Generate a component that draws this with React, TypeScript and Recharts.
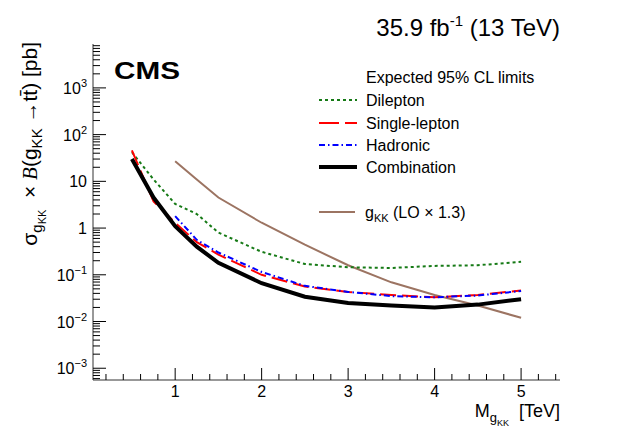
import React from 'react';
import { LineChart, Line, XAxis, YAxis } from 'recharts';

// mass points [TeV]
const masses = [0.5, 0.75, 1, 1.25, 1.5, 2, 2.5, 3, 3.5, 4, 4.5, 5];

// expected 95% CL limits [pb]
const dilepton = [42, 11, 3.3, 2.0, 0.8, 0.31, 0.17, 0.145, 0.14, 0.155, 0.16, 0.19];
const singleLepton = [46, 3.7, 1.3, 0.5, 0.27, 0.1, 0.056, 0.043, 0.037, 0.033, 0.037, 0.046];
const hadronic = [null, null, 1.8, 0.56, 0.3, 0.115, 0.058, 0.043, 0.035, 0.033, 0.036, 0.045];
const combination = [30, 4.5, 1.1, 0.4, 0.18, 0.066, 0.034, 0.025, 0.022, 0.02, 0.023, 0.03];
// g_KK theory (LO x 1.3)
const gkk = [null, null, 27, 11, 4.5, 1.3, 0.44, 0.16, 0.069, 0.037, 0.022, 0.012];

const xMajor = [1, 2, 3, 4, 5];
const yDecades = [-3, -2, -1, 0, 1, 2, 3];

const X_DOMAIN = [0.05, 5.45];
const Y_DOMAIN = [0.00056, 8700];

const FONT = '"Liberation Sans", Arial, Helvetica, sans-serif';
const NB = '\u00a0';

const data = masses.map((m, i) => ({
  m,
  dilepton: dilepton[i],
  singleLepton: singleLepton[i],
  hadronic: hadronic[i],
  combination: combination[i],
  gkk: gkk[i],
}));

const xTicks: number[] = [];
for (let k = 1; k <= 27; k++) xTicks.push(k / 5);

const yTicks: number[] = [];
for (let e = -4; e <= 3; e++) {
  for (let d = 1; d <= 9; d++) {
    const v = d * Math.pow(10, e);
    if (v >= Y_DOMAIN[0] && v <= Y_DOMAIN[1]) yTicks.push(v);
  }
}

const XTick = (props: any) => {
  const { x, y, payload } = props;
  const v = payload.value;
  const major = xMajor.some((t) => Math.abs(t - v) < 1e-6);
  return (
    <g>
      <line x1={x} x2={x} y1={y} y2={y - (major ? 12 : 6)} stroke="#000" />
      {major && (
        <text x={x} y={y + 17} textAnchor="middle" fontSize={16} fontFamily={FONT} fill="#000">
          {v}
        </text>
      )}
    </g>
  );
};

const YTick = (props: any) => {
  const { x, y, payload } = props;
  const lg = Math.log10(payload.value);
  const exp = Math.round(lg);
  const major = Math.abs(lg - exp) < 1e-6 && yDecades.includes(exp);
  let label: React.ReactNode = null;
  if (major) {
    if (exp === 0) label = '1';
    else if (exp === 1) label = '10';
    else
      label = (
        <>
          10
          <tspan fontSize={11} dy={-7}>
            {exp < 0 ? `\u2212${-exp}` : exp}
          </tspan>
        </>
      );
  }
  return (
    <g>
      <line x1={x} x2={x + (major ? 13 : 7)} y1={y} y2={y} stroke="#000" />
      {major && (
        <text x={x - 6} y={y + 6} textAnchor="end" fontSize={16} fontFamily={FONT} fill="#000">
          {label}
        </text>
      )}
    </g>
  );
};

const legendRows = [
  { label: 'Dilepton', color: '#167a16', dash: '3 3', width: 2, y: 100 },
  { label: 'Single-lepton', color: '#ff0000', dash: '20 6', width: 2, y: 123 },
  { label: 'Hadronic', color: '#0000ff', dash: '6 3 1.5 3', width: 2, y: 145 },
  { label: 'Combination', color: '#000000', dash: undefined, width: 4, y: 167 },
];

const App: React.FC = () => {
  return (
    <div style={{ position: 'absolute', left: 0, top: 0, width: 623, height: 448, background: '#fff' }}>
      <LineChart width={623} height={448} data={data} margin={{ top: 44, right: 63, bottom: 38, left: 33 }}>
        <XAxis
          dataKey="m"
          type="number"
          scale="linear"
          domain={X_DOMAIN}
          allowDataOverflow
          ticks={xTicks}
          interval={0}
          tickSize={0}
          tickMargin={0}
          tickLine={false}
          tick={<XTick />}
          height={30}
          axisLine={{ stroke: '#333' }}
        />
        <XAxis
          xAxisId="top"
          orientation="top"
          type="number"
          domain={X_DOMAIN}
          allowDataOverflow
          height={0}
          tick={false}
          tickLine={false}
          axisLine={{ stroke: '#333' }}
        />
        <YAxis
          type="number"
          scale="log"
          domain={Y_DOMAIN}
          allowDataOverflow
          ticks={yTicks}
          interval={0}
          tickSize={0}
          tickMargin={0}
          tickLine={false}
          tick={<YTick />}
          width={60}
          axisLine={{ stroke: '#333' }}
        />
        <YAxis
          yAxisId="right"
          orientation="right"
          type="number"
          scale="log"
          domain={Y_DOMAIN}
          allowDataOverflow
          width={0}
          tick={false}
          tickLine={false}
          axisLine={{ stroke: '#333' }}
        />
        <Line dataKey="gkk" type="linear" stroke="#9c7462" strokeWidth={2} dot={false} isAnimationActive={false} />
        <Line dataKey="dilepton" type="linear" stroke="#167a16" strokeWidth={2} strokeDasharray="3 3" dot={false} isAnimationActive={false} />
        <Line dataKey="singleLepton" type="linear" stroke="#ff0000" strokeWidth={2} strokeDasharray="16 6" dot={false} isAnimationActive={false} />
        <Line dataKey="hadronic" type="linear" stroke="#0000ff" strokeWidth={2} strokeDasharray="6 3 1.5 3" dot={false} isAnimationActive={false} />
        <Line dataKey="combination" type="linear" stroke="#000000" strokeWidth={4} dot={false} isAnimationActive={false} />
      </LineChart>
      <svg
        width={623}
        height={448}
        style={{ position: 'absolute', left: 0, top: 0, pointerEvents: 'none' }}
        fontFamily={FONT}
      >
        <text x={560} y={36} textAnchor="end" fontSize={24} fill="#000">
          35.9 fb
          <tspan fontSize={15} dy={-10}>-1</tspan>
          <tspan dy={10}> (13 TeV)</tspan>
        </text>
        <text x={114} y={79} fontSize={23} fontWeight="bold" textLength={66} lengthAdjust="spacingAndGlyphs" fill="#000">
          CMS
        </text>
        <text x={366} y={83} fontSize={16} fill="#000">Expected 95% CL limits</text>
        {legendRows.map((r) => (
          <g key={r.label}>
            <line x1={319} x2={357} y1={r.y} y2={r.y} stroke={r.color} strokeWidth={r.width} strokeDasharray={r.dash} />
            <text x={366} y={r.y + 6} fontSize={16} fill="#000">{r.label}</text>
          </g>
        ))}
        <line x1={319} x2={355} y1={212} y2={212} stroke="#9c7462" strokeWidth={2} />
        <text x={365} y={218} fontSize={16} fill="#000">
          g<tspan fontSize={11} dy={4}>KK</tspan>
          <tspan dy={-4}>{` (LO × 1.3)`}</tspan>
        </text>
        <text x={560} y={417} textAnchor="end" fontSize={18} fill="#000">
          M<tspan fontSize={13} dy={5}>g</tspan>
          <tspan fontSize={9} dy={4}>KK</tspan>
          <tspan dy={-9}>{`${NB}${NB}[TeV]`}</tspan>
        </text>
        <text transform="rotate(-90, 37, 42)" x={37} y={42} textAnchor="end" fontSize={21} fill="#000">
          σ<tspan fontSize={15} dy={5}>g</tspan>
          <tspan fontSize={11} dy={4}>KK</tspan>
          <tspan dy={-9}>{`${NB}${NB}×${NB}`}</tspan>
          <tspan fontFamily='"Liberation Serif", serif' fontStyle="italic">B</tspan>
          <tspan>(g</tspan>
          <tspan fontSize={15} dy={5}>KK</tspan>
          <tspan dy={-5}>{`${NB}→tt̄) [pb]`}</tspan>
        </text>
      </svg>
    </div>
  );
};

export default App;
